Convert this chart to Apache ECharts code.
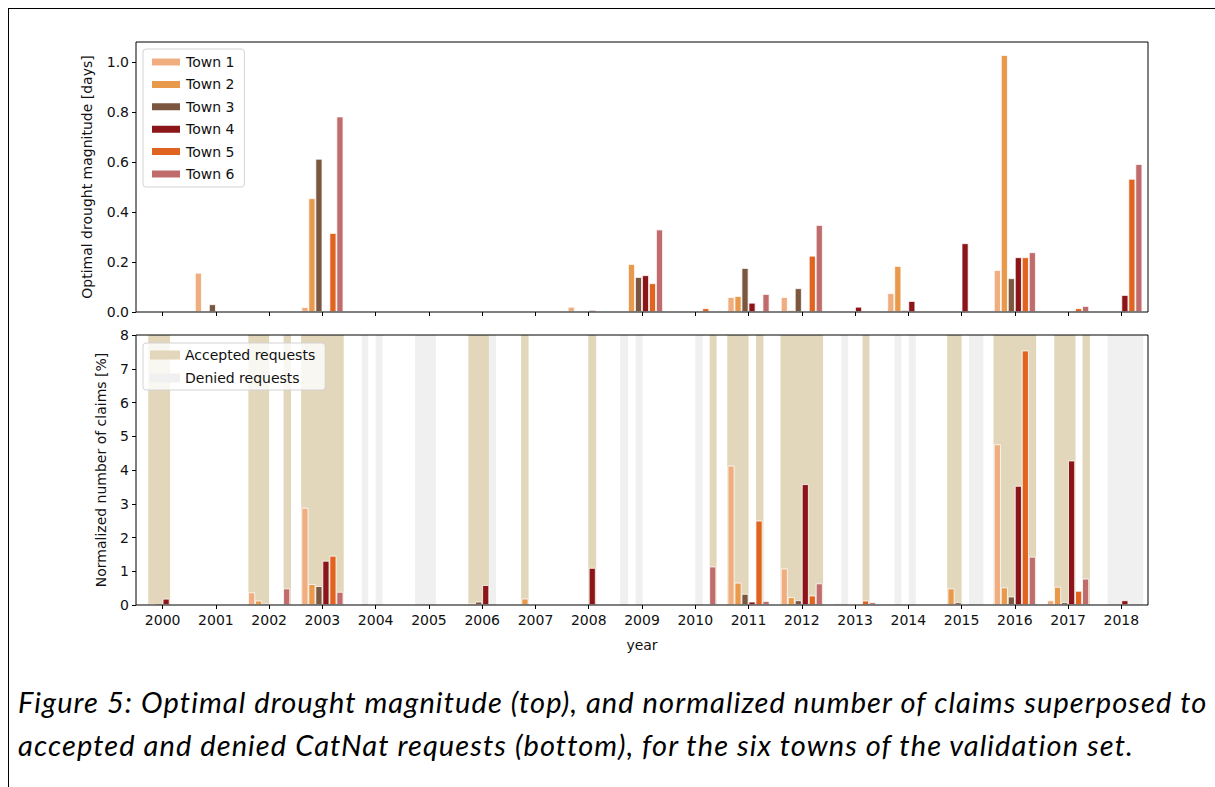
<!DOCTYPE html>
<html>
<head>
<meta charset="utf-8">
<script src="https://cdn.jsdelivr.net/npm/echarts@6/dist/echarts.min.js"></script>
<style>
html,body{margin:0;padding:0;background:#fff;overflow:hidden;width:1215px;height:787px;}
#frame{position:absolute;left:8px;top:8px;width:1207px;height:779px;border-left:1.5px solid #000;border-top:1.5px solid #000;box-sizing:border-box;}
#chart{position:absolute;left:0;top:0;width:1215px;height:787px;}
.cap{position:absolute;left:18px;font-family:Lato,"Open Sans",sans-serif;font-style:italic;font-size:29px;line-height:43px;color:#000;white-space:nowrap;}
</style>
</head>
<body>
<div id="frame"></div>
<div id="chart"></div>
<div class="cap" id="cap1" style="top:680px;">Figure 5: Optimal drought magnitude (top), and normalized number of claims superposed to</div>
<div class="cap" id="cap2" style="top:723px;">accepted and denied CatNat requests (bottom), for the six towns of the validation set.</div>
<script>
// ---------- data ----------
const years = ['2000','2001','2002','2003','2004','2005','2006','2007','2008','2009','2010','2011','2012','2013','2014','2015','2016','2017','2018'];
const towns = ['Town 1','Town 2','Town 3','Town 4','Town 5','Town 6'];
const townColors = ['#f0ad7f','#e8994b','#7b5740','#8b1518','#e0641f','#c06c6c'];

// Optimal drought magnitude [days], one value per year (2000..2018)
const mag1 = [0, 0.157, 0, 0.02, 0, 0, 0, 0, 0.021, 0, 0, 0.06, 0.06, 0, 0.075, 0, 0.168, 0, 0];
const mag2 = [0, 0, 0, 0.455, 0, 0, 0, 0, 0, 0.192, 0, 0.064, 0.008, 0, 0.184, 0, 1.028, 0, 0];
const mag3 = [0, 0.031, 0, 0.613, 0, 0, 0, 0, 0, 0.14, 0, 0.176, 0.095, 0, 0.008, 0, 0.135, 0, 0];
const mag4 = [0, 0, 0, 0, 0, 0, 0, 0, 0.008, 0.147, 0, 0.037, 0, 0.021, 0.044, 0.275, 0.219, 0, 0.068];
const mag5 = [0, 0, 0, 0.316, 0, 0, 0, 0, 0, 0.115, 0.015, 0, 0.225, 0, 0, 0, 0.219, 0.015, 0.533];
const mag6 = [0, 0, 0, 0.782, 0, 0, 0, 0, 0, 0.33, 0, 0.072, 0.348, 0, 0, 0, 0.239, 0.024, 0.592];

// Normalized number of claims [%], one value per year (2000..2018)
const claims1 = [0, 0, 0.375, 2.88, 0, 0, 0, 0, 0, 0, 0, 4.13, 1.08, 0.05, 0, 0, 4.76, 0.14, 0];
const claims2 = [0.03, 0, 0.13, 0.62, 0, 0, 0.05, 0.19, 0, 0, 0, 0.66, 0.23, 0, 0, 0.49, 0.52, 0.54, 0];
const claims3 = [0, 0, 0.05, 0.56, 0, 0, 0.1, 0, 0, 0, 0, 0.33, 0.14, 0, 0, 0.08, 0.25, 0.08, 0];
const claims4 = [0.187, 0, 0.03, 1.31, 0, 0, 0.59, 0, 1.1, 0, 0, 0.1, 3.58, 0, 0, 0, 3.53, 4.28, 0.14];
const claims5 = [0, 0, 0, 1.46, 0, 0, 0, 0, 0, 0, 0, 2.5, 0.28, 0.13, 0, 0, 7.54, 0.42, 0];
const claims6 = [0, 0, 0.49, 0.39, 0, 0, 0, 0, 0, 0, 1.14, 0.12, 0.64, 0.08, 0, 0, 1.43, 0.78, 0];

// CatNat request periods [start, end] in decimal years
const accepted = [[1999.73,2000.14],[2001.61,2002.0],[2002.27,2002.41],[2002.60,2003.40],[2005.74,2006.13],[2006.73,2006.87],[2007.99,2008.14],[2010.27,2010.40],[2010.60,2011.0],[2011.14,2011.28],[2011.60,2012.40],[2013.14,2013.27],[2014.73,2015.0],[2015.60,2016.40],[2016.74,2017.14],[2017.27,2017.41]];
const denied = [[2003.74,2003.86],[2004.0,2004.13],[2004.74,2005.13],[2006.13,2006.26],[2008.59,2008.74],[2008.88,2009.01],[2010.0,2010.14],[2012.74,2012.87],[2013.74,2013.87],[2014.01,2014.14],[2015.14,2015.41],[2017.74,2018.41]];

const topTicks = [0, 0.2, 0.4, 0.6, 0.8, 1.0];
const bottomTicks = [0, 1, 2, 3, 4, 5, 6, 7, 8];
const bandNames = ['Accepted requests', 'Denied requests'];
const bandColors = ['#e2d6bb', '#f0f0f0'];

// ---------- caption fitting (match the reference line width) ----------
(function () {
  const c1 = document.getElementById('cap1'), c2 = document.getElementById('cap2');
  const target = 1189;
  const w = c1.getBoundingClientRect().width;
  const n = c1.textContent.length;
  const ls = (target - w) / n;
  c1.style.letterSpacing = ls + 'px';
  c2.style.letterSpacing = ls + 'px';
})();

// ---------- chart ----------
const mags = [mag1, mag2, mag3, mag4, mag5, mag6];
const claims = [claims1, claims2, claims3, claims4, claims5, claims6];
const FONT = 'DejaVu Sans';
const nz = arr => arr.map(v => (v === 0 ? '-' : v));

const chart = echarts.init(document.getElementById('chart'), null, {renderer: 'svg'});

const tickStyle = {show: true, length: 4, lineStyle: {color: '#000', width: 1}};
const labelStyle = {fontFamily: FONT, fontSize: 14, color: '#111'};

function bandSeries(idx, data) {
  return {
    type: 'custom', name: bandNames[idx], xAxisIndex: 2, yAxisIndex: 1,
    data: data, encode: {x: [0, 1]}, z: 1, clip: true,
    itemStyle: {color: bandColors[idx]},
    renderItem: function (params, api) {
      const p0 = api.coord([api.value(0), bottomTicks[bottomTicks.length - 1]]);
      const p1 = api.coord([api.value(1), 0]);
      return {type: 'rect', shape: {x: p0[0], y: p0[1], width: p1[0] - p0[0], height: p1[1] - p0[1]},
              style: {fill: bandColors[idx]}};
    }
  };
}

const series = [];
series.push(bandSeries(0, accepted));
series.push(bandSeries(1, denied));
towns.forEach((t, i) => {
  series.push({type: 'bar', name: t, xAxisIndex: 0, yAxisIndex: 0, data: nz(mags[i]),
    barWidth: 7, barGap: '0%', z: 3,
    itemStyle: {color: townColors[i], borderColor: '#fff', borderWidth: 0.8}});
});
towns.forEach((t, i) => {
  series.push({type: 'bar', name: t, xAxisIndex: 1, yAxisIndex: 1, data: nz(claims[i]),
    barWidth: 7, barGap: '0%', z: 3,
    itemStyle: {color: townColors[i], borderColor: '#fff', borderWidth: 0.8}});
});

const legendCommon = {
  orient: 'vertical', left: 143, itemWidth: 30, itemHeight: 9, icon: 'rect',
  textStyle: {fontFamily: FONT, fontSize: 14, color: '#111', lineHeight: 16},
  backgroundColor: 'rgba(255,255,255,0.8)', borderColor: '#d3d3d3', borderWidth: 1, borderRadius: 3,
  selectedMode: false, z: 20
};

const option = {
  animation: false,
  backgroundColor: 'transparent',
  grid: [
    {left: 136, right: 67, top: 42, height: 270, show: true, borderColor: '#000', borderWidth: 1, backgroundColor: 'transparent', z: 10},
    {left: 136, right: 67, top: 335, height: 270, show: true, borderColor: '#000', borderWidth: 1, backgroundColor: 'transparent', z: 10}
  ],
  legend: [
    Object.assign({}, legendCommon, {top: 49, data: towns, itemGap: 6.4, padding: [5, 10, 5, 7]}),
    Object.assign({}, legendCommon, {top: 343, data: bandNames, itemGap: 7, padding: [4, 10, 4, 7]})
  ],
  xAxis: [
    {type: 'category', gridIndex: 0, data: years, z: 10,
     axisLine: {show: false}, axisTick: Object.assign({alignWithLabel: true, interval: 0}, tickStyle),
     axisLabel: {show: false}, splitLine: {show: false}},
    {type: 'category', gridIndex: 1, data: years, z: 10,
     axisLine: {show: false}, axisTick: Object.assign({alignWithLabel: true, interval: 0}, tickStyle),
     axisLabel: Object.assign({interval: 0, margin: 8}, labelStyle), splitLine: {show: false},
     name: 'year', nameLocation: 'middle', nameGap: 33, nameTextStyle: labelStyle},
    {type: 'value', gridIndex: 1, min: 1999.5, max: 2018.5, show: false}
  ],
  yAxis: [
    {type: 'value', gridIndex: 0, min: 0, max: 1.08, z: 10,
     axisLine: {show: false}, splitLine: {show: false},
     axisTick: Object.assign({customValues: topTicks}, tickStyle),
     axisLabel: Object.assign({customValues: topTicks, margin: 7, formatter: v => v.toFixed(1)}, labelStyle),
     name: 'Optimal drought magnitude [days]', nameLocation: 'middle', nameGap: 42, nameTextStyle: labelStyle},
    {type: 'value', gridIndex: 1, min: 0, max: 8, interval: 1, z: 10,
     axisLine: {show: false}, splitLine: {show: false},
     axisTick: Object.assign({customValues: bottomTicks}, tickStyle),
     axisLabel: Object.assign({customValues: bottomTicks, margin: 7}, labelStyle),
     name: 'Normalized number of claims [%]', nameLocation: 'middle', nameGap: 28, nameTextStyle: labelStyle}
  ],
  series: series
};
chart.setOption(option);
</script>
</body>
</html>
